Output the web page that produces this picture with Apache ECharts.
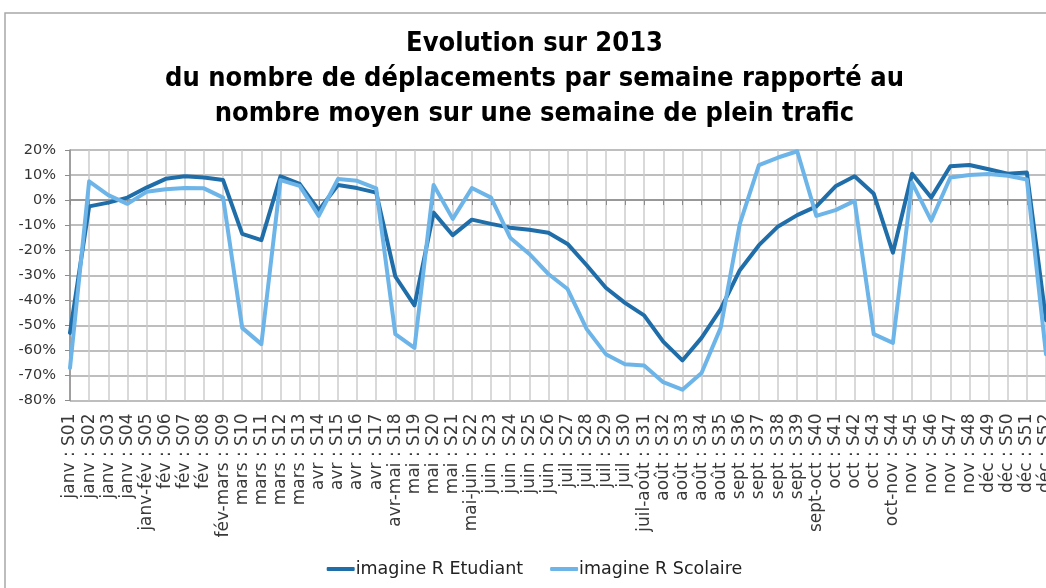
<!DOCTYPE html>
<html>
<head>
<meta charset="utf-8">
<script src="https://cdn.jsdelivr.net/npm/echarts@6/dist/echarts.min.js"></script>
<style>
  html, body { margin: 0; padding: 0; background: #fff; overflow: hidden; }
  #chart { width: 1069px; height: 588px; }
</style>
</head>
<body>
<div id="chart"></div>
<script>
// semaines 2013
const categories = [
  'janv : S01', 'janv : S02', 'janv : S03', 'janv : S04', 'janv-fév : S05',
  'fév : S06', 'fév : S07', 'fév : S08', 'fév-mars : S09', 'mars : S10',
  'mars : S11', 'mars : S12', 'mars : S13', 'avr : S14', 'avr : S15',
  'avr : S16', 'avr : S17', 'avr-mai : S18', 'mai : S19', 'mai : S20',
  'mai : S21', 'mai-juin : S22', 'juin : S23', 'juin : S24', 'juin : S25',
  'juin : S26', 'juil : S27', 'juil : S28', 'juil : S29', 'juil : S30',
  'juil-août : S31', 'août : S32', 'août : S33', 'août : S34', 'août : S35',
  'sept : S36', 'sept : S37', 'sept : S38', 'sept : S39', 'sept-oct : S40',
  'oct : S41', 'oct : S42', 'oct : S43', 'oct-nov : S44', 'nov : S45',
  'nov : S46', 'nov : S47', 'nov : S48', 'déc : S49', 'déc : S50',
  'déc : S51', 'déc : S52'
]

// en % par rapport au plein trafic
const etudiant = [
  -53, -2.5, -1, 1, 5, 8.5, 9.5, 9, 8, -13.5,
  -16, 9.5, 6.5, -4, 6, 4.8, 3, -30.5, -42, -5,
  -14, -7.8, -9.5, -11, -11.8, -13, -17.5, -26, -35, -41,
  -46, -56.5, -64, -55, -43.5, -28, -18, -10.5, -6, -2.5,
  5.5, 9.5, 2.5, -21, 10.5, 1, 13.5, 14, 12.3, 10.5,
  11, -48
]
const scolaire = [
  -67, 7.5, 2, -1.5, 3.3, 4.3, 4.8, 4.7, 1, -51,
  -57.5, 8, 5.7, -6.3, 8.4, 7.7, 4.7, -53.5, -59, 6,
  -7.5, 4.8, 1, -15, -21.5, -29.5, -35.5, -51.5, -61.5, -65.5,
  -66, -72.7, -75.7, -69, -51, -9.5, 14, 17, 19.5, -6.3,
  -4, -0.3, -53.5, -57, 7, -8.2, 9, 10, 10.4, 9.7,
  8.2, -61.5
]

const seriesNames = ['imagine R Etudiant', 'imagine R Scolaire']
const colors = ['#1f6ea9', '#6db5e8']
const titleLines = [
  'Evolution sur 2013',
  'du nombre de déplacements par semaine rapporté au',
  'nombre moyen sur une semaine de plein trafic'
]

const chart = echarts.init(document.getElementById('chart'))

const lineStyle = (c) => ({ width: 4, color: c, cap: 'round', join: 'round' })

chart.setOption({
  animation: false,
  color: colors,
  graphic: [{
    type: 'rect',
    shape: { x: 5, y: 13, width: 1058, height: 600 },
    style: { fill: 'none', stroke: '#a8a8a8', lineWidth: 1.5 },
    silent: true
  }],
  title: {
    text: titleLines.join('\n'),
    left: 'center',
    top: 21,
    textStyle: {
      fontFamily: 'DejaVu Sans Condensed, DejaVu Sans',
      fontWeight: 'bold',
      fontSize: 27,
      lineHeight: 35,
      color: '#000'
    }
  },
  legend: {
    bottom: 5,
    left: 'center',
    itemWidth: 28,
    itemHeight: 4,
    itemGap: 27,
    icon: 'roundRect',
    textStyle: { fontFamily: 'DejaVu Sans', fontSize: 17.5, color: '#222', padding: [0, 0, 0, -4] },
    data: seriesNames
  },
  grid: {
    left: 70,
    right: 23,
    top: 150,
    bottom: 187.5
  },
  xAxis: {
    type: 'category',
    boundaryGap: false,
    data: categories,
    axisLine: { lineStyle: { color: '#8c8c8c', width: 1.5 } },
    axisTick: { show: true, length: 5, interval: 0, lineStyle: { color: '#8c8c8c' } },
    axisLabel: {
      interval: 0,
      rotate: 90,
      margin: 13,
      fontFamily: 'DejaVu Sans',
      fontSize: 17,
      color: '#3a3a3a'
    },
    splitLine: { show: true, interval: 0, lineStyle: { color: '#cdcdcd', width: 1.5 } }
  },
  yAxis: {
    type: 'value',
    min: -80,
    max: 20,
    interval: 10,
    axisLine: { show: true, lineStyle: { color: '#8c8c8c', width: 1.5 } },
    axisTick: { show: true, length: 5, lineStyle: { color: '#8c8c8c' } },
    axisLabel: {
      formatter: '{value}%',
      margin: 14,
      fontFamily: 'DejaVu Sans',
      fontSize: 14.5,
      color: '#333'
    },
    splitLine: { lineStyle: { color: '#a9a9a9', width: 1.5 } }
  },
  series: [
    {
      name: seriesNames[0],
      type: 'line',
      symbol: 'none',
      data: etudiant,
      lineStyle: lineStyle(colors[0])
    },
    {
      name: seriesNames[1],
      type: 'line',
      symbol: 'none',
      data: scolaire,
      lineStyle: lineStyle(colors[1])
    }
  ]
})
</script>
</body>
</html>
